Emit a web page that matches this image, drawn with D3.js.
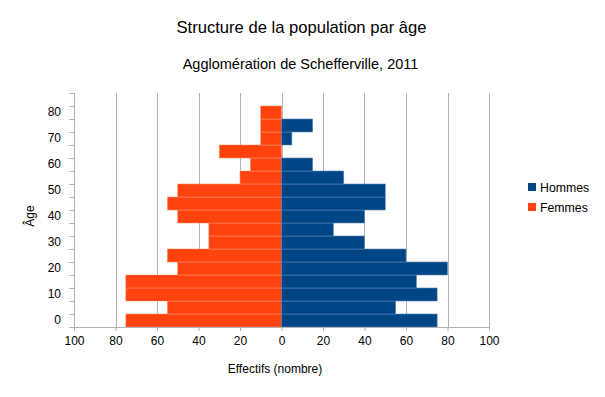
<!DOCTYPE html>
<html><head><meta charset="utf-8">
<script src="https://cdn.jsdelivr.net/npm/d3@7"></script>
<style>body{margin:0;background:#fff;font-family:"Liberation Sans",Arial,sans-serif;}</style>
</head><body>
<svg id="c" width="605" height="397"></svg>
<script>
const ageGroups = ["0","5","10","15","20","25","30","35","40","45","50","55","60","65","70","75","80","85"];
const hommes = [75,55,75,65,80,60,40,25,40,50,50,30,15,0,5,15,0,0];
const femmes = [75,55,75,75,50,55,35,35,50,55,50,20,15,30,10,10,10,0];
const xTicks = [-100,-80,-60,-40,-20,0,20,40,60,80,100];
const yLabels = ["0","10","20","30","40","50","60","70","80"];
const seriesNames = ["Hommes","Femmes"];
const colors = ["#004586","#ff420e"];

const svg = d3.select("#c");
const pL=74, pR=489, pT=93, pB=327;
const x = d3.scaleLinear().domain([-100,100]).range([pL,pR]);
const y = d3.scaleBand().domain(ageGroups.slice().reverse()).range([pT,pB]).padding(0);

// grid
svg.append("g").selectAll("line").data(xTicks).join("line")
  .attr("x1",d=>Math.round(x(d))+0.5).attr("x2",d=>Math.round(x(d))+0.5).attr("y1",pT).attr("y2",pB)
  .attr("stroke","#b3b3b3").attr("stroke-width",1);

// bars
svg.append("g").selectAll("rect").data(ageGroups.map((a,i)=>({a,v:femmes[i]})).filter(d=>d.v>0)).join("rect")
  .attr("x",d=>x(-d.v)).attr("width",d=>x(0)-x(-d.v))
  .attr("y",d=>y(d.a)).attr("height",y.bandwidth())
  .attr("fill",colors[1]).attr("stroke","#ff8a6a").attr("stroke-width",0.6);
svg.append("g").selectAll("rect").data(ageGroups.map((a,i)=>({a,v:hommes[i]})).filter(d=>d.v>0)).join("rect")
  .attr("x",x(0)).attr("width",d=>x(d.v)-x(0))
  .attr("y",d=>y(d.a)).attr("height",y.bandwidth())
  .attr("fill",colors[0]).attr("stroke","#5a86b5").attr("stroke-width",0.6);

// x axis
const xAxis = d3.axisBottom(x).tickValues(xTicks).tickFormat(d=>Math.abs(d)).tickSize(4).tickPadding(5);
const gx = svg.append("g").attr("transform",`translate(0,${pB})`).call(xAxis);
gx.select(".domain").attr("stroke","#b3b3b3");
gx.selectAll(".tick line").attr("stroke","#b3b3b3");
gx.selectAll("text").attr("font-size",12).attr("font-family","Liberation Sans, Arial, sans-serif").attr("fill","#000");

// y axis
const yAxis = d3.axisLeft(y).tickSize(0).tickFormat(d=>yLabels.includes(d)?d:"").tickPadding(13);
const gy = svg.append("g").attr("transform",`translate(${pL},0)`).call(yAxis);
gy.select(".domain").attr("stroke","#b3b3b3");
gy.selectAll("text").attr("font-size",12).attr("font-family","Liberation Sans, Arial, sans-serif").attr("fill","#000");
// boundary ticks
const bounds = ageGroups.map(a=>y(a)+y.bandwidth()).concat([pT]);
svg.append("g").selectAll("line").data(bounds).join("line")
  .attr("x1",pL-5).attr("x2",pL).attr("y1",d=>Math.round(d)+0.5).attr("y2",d=>Math.round(d)+0.5)
  .attr("stroke","#b3b3b3");

// titles
svg.append("text").attr("x",301.5).attr("y",33).attr("text-anchor","middle").attr("font-size",16.6).text("Structure de la population par âge");
svg.append("text").attr("x",300.5).attr("y",69).attr("text-anchor","middle").attr("font-size",14.5).text("Agglomération de Schefferville, 2011");
svg.append("text").attr("x",275).attr("y",373).attr("text-anchor","middle").attr("font-size",12).text("Effectifs (nombre)");
svg.append("text").attr("transform","translate(34,216) rotate(-90)").attr("text-anchor","middle").attr("font-size",12).text("Âge");

// legend
const lg = svg.append("g");
seriesNames.forEach((n,i)=>{
  lg.append("rect").attr("x",528).attr("y",183+i*20).attr("width",8).attr("height",8).attr("fill",colors[i]);
  lg.append("text").attr("x",540).attr("y",192+i*20).attr("font-size",12.3).text(n);
});
</script>
</body></html>
